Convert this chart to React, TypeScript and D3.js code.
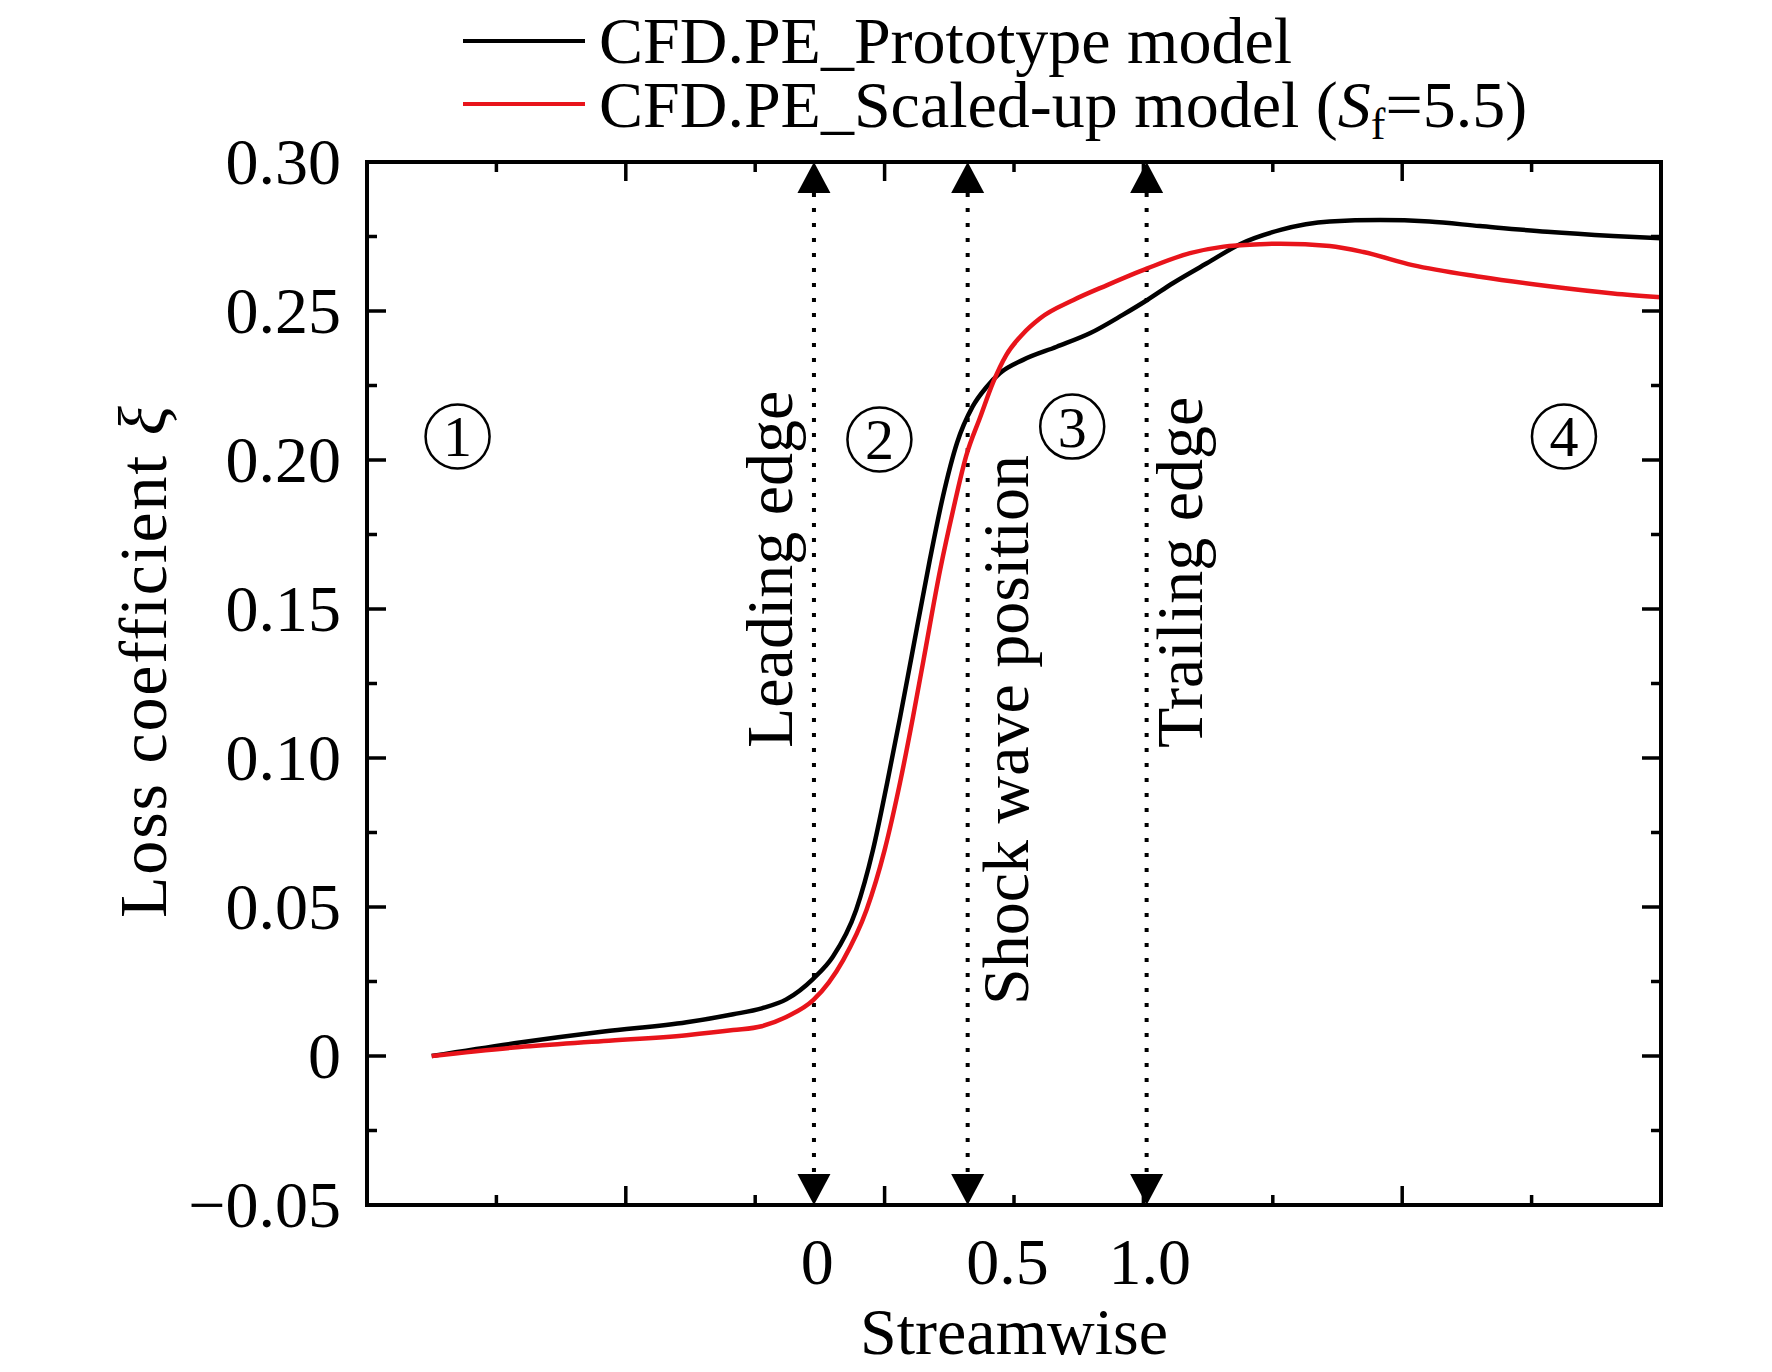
import * as d3 from 'd3'

// ── data (x in axis-position units: frame spans 0..10) ───────────────────────
const protoX = [0.5, 1.18, 1.83, 2.47, 2.83, 3.05, 3.24, 3.45, 3.6, 3.78, 3.91, 4.02, 4.12, 4.21, 4.35, 4.45, 4.56, 4.68, 4.79, 4.89, 5.07, 5.33, 5.59, 5.84, 6.03, 6.23, 6.49, 6.75, 7.06, 7.44, 7.83, 8.21, 8.6, 9.12, 9.63, 10]
const protoY = [0, 0.0045, 0.0082, 0.0113, 0.014, 0.016, 0.019, 0.026, 0.0333, 0.049, 0.0691, 0.0917, 0.1137, 0.1344, 0.1666, 0.1876, 0.2058, 0.2179, 0.2246, 0.2291, 0.2336, 0.238, 0.2426, 0.2487, 0.2537, 0.2594, 0.266, 0.2725, 0.2772, 0.28, 0.2805, 0.28, 0.2785, 0.2766, 0.2752, 0.2744]

const scaledX = [0.5, 1.18, 1.83, 2.47, 2.83, 3.05, 3.24, 3.45, 3.68, 3.86, 4.0, 4.12, 4.22, 4.3, 4.43, 4.53, 4.63, 4.74, 4.84, 4.94, 5.07, 5.2, 5.46, 5.72, 6.03, 6.36, 6.62, 6.9, 7.06, 7.44, 7.7, 8.08, 8.6, 9.12, 9.63, 10]
const scaledY = [0, 0.003, 0.005, 0.007, 0.0087, 0.01, 0.0131, 0.0188, 0.0322, 0.049, 0.0691, 0.0919, 0.1139, 0.1327, 0.1633, 0.1833, 0.2013, 0.2145, 0.2262, 0.2352, 0.2424, 0.2475, 0.2537, 0.2587, 0.2643, 0.2694, 0.2716, 0.2724, 0.2726, 0.2718, 0.2698, 0.2654, 0.2615, 0.2584, 0.2559, 0.2546]

const yTickVals   = [0.3, 0.25, 0.2, 0.15, 0.1, 0.05, 0, -0.05]
const yTickLabels = ['0.30', '0.25', '0.20', '0.15', '0.10', '0.05', '0', '\u22120.05']
const xTickLabels = [{ pos: 3.48, text: '0' }, { pos: 4.95, text: '0.5' }, { pos: 6.05, text: '1.0' }]

const markers = [
  { pos: 3.454, label: 'Leading edge' },
  { pos: 4.642, label: 'Shock wave position' },
  { pos: 6.025, label: 'Trailing edge' },
]

const zones = [
  { pos: 0.7, v: 0.2079, n: '1' },
  { pos: 3.96, v: 0.2069, n: '2' },
  { pos: 5.45, v: 0.2112, n: '3' },
  { pos: 9.25, v: 0.2079, n: '4' },
]

// ── layout ───────────────────────────────────────────────────────────────────
const W = 1772
const H = 1372
const F = { left: 367, right: 1661, top: 162, bottom: 1205 }
const FONT = '"Liberation Serif", "Times New Roman", Times, serif'
const FS = 66
const RED = '#e8141b'

const x = d3.scaleLinear().domain([0, 10]).range([F.left, F.right])
const y = d3.scaleLinear().domain([-0.05, 0.3]).range([F.bottom, F.top])

const line = d3.line<[number, number]>()
  .x(d => x(d[0])).y(d => y(d[1]))
  .curve(d3.curveMonotoneX)

const proto  = protoX.map((v, i) => [v, protoY[i]] as [number, number])
const scaled = scaledX.map((v, i) => [v, scaledY[i]] as [number, number])

const xMinor = d3.range(0, 11)
const yMinor = d3.range(-0.05, 0.3001, 0.025)

export default function App() {
  return (
    <div style={{ position: 'absolute', left: 0, top: 0 }}>
      <svg width={W} height={H} viewBox={`0 0 ${W} ${H}`} style={{ display: 'block', background: '#fff' }} fontFamily={FONT}>
        {/* legend */}
        <line x1={463} x2={585} y1={41} y2={41} stroke="#000" strokeWidth={4} />
        <text x={599} y={63} fontSize={FS}>CFD.PE_Prototype model</text>
        <line x1={463} x2={585} y1={104} y2={104} stroke={RED} strokeWidth={4} />
        <text x={599} y={127} fontSize={FS}>
          CFD.PE_Scaled-up model (<tspan fontStyle="italic">S</tspan>
          <tspan fontSize={44} dy={12}>f</tspan>
          <tspan dy={-12}>=5.5)</tspan>
        </text>

        {/* ticks – inward on all four sides */}
        {xMinor.map(t => {
          const len = t % 2 === 0 ? 19 : 10
          return (
            <g key={'xt' + t} stroke="#000" strokeWidth={3.5}>
              <line x1={x(t)} x2={x(t)} y1={F.bottom} y2={F.bottom - len} />
              <line x1={x(t)} x2={x(t)} y1={F.top} y2={F.top + len} />
            </g>
          )
        })}
        {yMinor.map((t, i) => {
          const len = i % 2 === 0 ? 19 : 10
          return (
            <g key={'yt' + i} stroke="#000" strokeWidth={3.5}>
              <line x1={F.left} x2={F.left + len} y1={y(t)} y2={y(t)} />
              <line x1={F.right} x2={F.right - len} y1={y(t)} y2={y(t)} />
            </g>
          )
        })}

        {/* y tick labels */}
        {yTickVals.map((v, i) => (
          <text key={'yl' + i} x={341} y={y(v) + 22} fontSize={FS} textAnchor="end">{yTickLabels[i]}</text>
        ))}
        {/* x tick labels */}
        {xTickLabels.map(d => (
          <text key={'xl' + d.text} x={x(d.pos)} y={1284} fontSize={FS} textAnchor="middle">{d.text}</text>
        ))}

        {/* axis titles */}
        <text x={1014} y={1354} fontSize={FS} textAnchor="middle">Streamwise</text>
        <text transform="translate(166,662) rotate(-90)" fontSize={68} textAnchor="middle" textLength={512} lengthAdjust="spacing">
          Loss coefficient <tspan fontStyle="italic">ξ</tspan>
        </text>

        {/* marker lines with arrowheads */}
        {markers.map(m => {
          const mx = x(m.pos)
          return (
            <g key={m.label}>
              <line x1={mx} x2={mx} y1={F.top + 31} y2={F.bottom - 31} stroke="#000" strokeWidth={4} strokeDasharray="4 11" />
              <path d={`M${mx},${F.top} L${mx - 16.5},${F.top + 31} L${mx + 16.5},${F.top + 31} Z`} fill="#000" />
              <path d={`M${mx},${F.bottom} L${mx - 16.5},${F.bottom - 31} L${mx + 16.5},${F.bottom - 31} Z`} fill="#000" />
            </g>
          )
        })}

        {/* rotated marker labels */}
        <text transform="translate(792,748) rotate(-90)" fontSize={FS}>{markers[0].label}</text>
        <text transform="translate(1028,1005) rotate(-90)" fontSize={FS}>{markers[1].label}</text>
        <text transform="translate(1202,748) rotate(-90)" fontSize={FS}>{markers[2].label}</text>

        {/* zone numbers */}
        {zones.map(z => (
          <g key={z.n}>
            <circle cx={x(z.pos)} cy={y(z.v)} r={32} fill="none" stroke="#000" strokeWidth={2.5} />
            <text x={x(z.pos)} y={y(z.v) + 20} fontSize={58} textAnchor="middle">{z.n}</text>
          </g>
        ))}

        {/* curves */}
        <path d={line(proto) ?? ''} fill="none" stroke="#000" strokeWidth={4.5} strokeLinejoin="round" />
        <path d={line(scaled) ?? ''} fill="none" stroke={RED} strokeWidth={4.5} strokeLinejoin="round" />

        {/* frame */}
        <rect x={F.left} y={F.top} width={F.right - F.left} height={F.bottom - F.top} fill="none" stroke="#000" strokeWidth={4} />
      </svg>
    </div>
  )
}
